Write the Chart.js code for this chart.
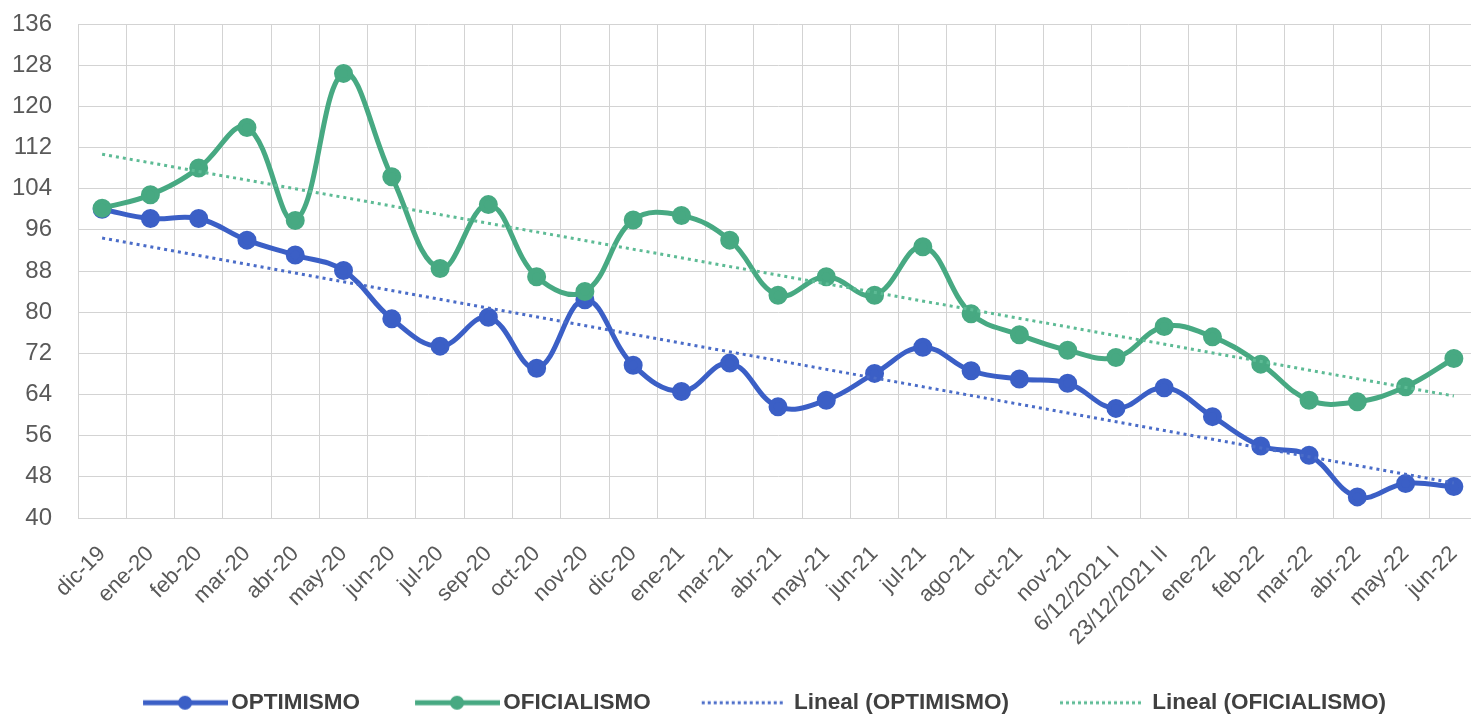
<!DOCTYPE html>
<html>
<head>
<meta charset="utf-8">
<script src="https://cdn.jsdelivr.net/npm/chart.js@4.4.1/dist/chart.umd.min.js"></script>
<style>
  html, body { margin: 0; padding: 0; background: #fff; overflow: hidden; }
  #wrap { width: 1490px; height: 721px; }
</style>
</head>
<body>
<div id="wrap"><canvas id="chart" width="1490" height="721"></canvas></div>
<script>
/* datos */
const labels = ['dic-19', 'ene-20', 'feb-20', 'mar-20', 'abr-20', 'may-20', 'jun-20', 'jul-20', 'sep-20', 'oct-20',
    'nov-20', 'dic-20', 'ene-21', 'mar-21', 'abr-21', 'may-21', 'jun-21', 'jul-21', 'ago-21', 'oct-21',
    'nov-21', '6/12/2021 I', '23/12/2021 II', 'ene-22', 'feb-22', 'mar-22', 'abr-22', 'may-22', 'jun-22'];

const optimismo = [100, 98.2, 98.2, 94, 91.1, 88.1, 78.7, 73.4, 79, 69.1,
    82.4, 69.7, 64.6, 70.1, 61.6, 62.9, 68.1, 73.2, 68.6, 67,
    66.2, 61.3, 65.3, 59.7, 54, 52.2, 44.1, 46.7, 46.1];

const oficialismo = [100.2, 102.8, 108, 115.9, 97.8, 126.4, 106.3, 88.5, 100.9, 86.9,
    84, 97.9, 98.8, 94, 83.3, 86.9, 83.3, 92.7, 79.7, 75.6,
    72.6, 71.2, 77.2, 75.2, 69.9, 62.9, 62.6, 65.5, 71];

// extremos de las líneas de tendencia (lineal), inicio y fin
const trendOptimismo = [94.4, 46.8];
const trendOficialismo = [110.7, 63.7];

const yTicks = [40, 48, 56, 64, 72, 80, 88, 96, 104, 112, 120, 128, 136];

const BLUE = '#3b5fc6';
const GREEN = '#47a982';
const BLUE_TREND = '#4a6cc8';
const GREEN_TREND = '#5dbb95';
const TEXT = '#595959';
const GRID = '#d3d3d3';

function endpoints(pair) {
    return labels.map((_, i) => i === 0 ? pair[0] : (i === labels.length - 1 ? pair[1] : null));
}

/* iconos de leyenda: la imagen se centra en la caja; la línea va pegada al texto */
const BOX_W = 104;
function legendIcon(color, dotted) {
    const w = 2 * (BOX_W / 2 + 8);
    const c = document.createElement('canvas');
    c.width = w; c.height = 16;
    const g = c.getContext('2d');
    g.strokeStyle = color;
    if (dotted) {
        g.lineWidth = 3;
        g.setLineDash([3, 3]);
        g.beginPath(); g.moveTo(w - 89, 8); g.lineTo(w - 6, 8); g.stroke();
    } else {
        g.lineWidth = 5;
        g.beginPath(); g.moveTo(w - 85, 8); g.lineTo(w, 8); g.stroke();
        g.fillStyle = color;
        g.beginPath(); g.arc(w - 43, 8, 7, 0, Math.PI * 2); g.fill();
    }
    return c;
}

const font = "'Liberation Sans', Arial, sans-serif";

new Chart(document.getElementById('chart'), {
    type: 'line',
    data: {
        labels: labels,
        datasets: [
            {
                label: 'OPTIMISMO', data: optimismo, borderColor: BLUE, backgroundColor: BLUE,
                borderWidth: 5, pointRadius: 7, pointHoverRadius: 7, tension: 0.4, order: 2,
                icon: legendIcon(BLUE, false),
            },
            {
                label: 'OFICIALISMO', data: oficialismo, borderColor: GREEN, backgroundColor: GREEN,
                borderWidth: 5, pointRadius: 7, pointHoverRadius: 7, tension: 0.4, order: 1,
                icon: legendIcon(GREEN, false),
            },
            {
                label: 'Lineal (OPTIMISMO)', data: endpoints(trendOptimismo), borderColor: BLUE_TREND,
                borderWidth: 3, borderDash: [3, 4], pointRadius: 0, spanGaps: true, tension: 0, order: 0,
                icon: legendIcon(BLUE_TREND, true),
            },
            {
                label: 'Lineal (OFICIALISMO)', data: endpoints(trendOficialismo), borderColor: GREEN_TREND,
                borderWidth: 3, borderDash: [3, 4], pointRadius: 0, spanGaps: true, tension: 0, order: 0,
                icon: legendIcon(GREEN_TREND, true),
            },
        ],
    },
    options: {
        responsive: false,
        animation: false,
        layout: { padding: { top: 24, left: 12, right: 0, bottom: -3 } },
        plugins: {
            tooltip: { enabled: false },
            legend: {
                position: 'bottom',
                labels: {
                    usePointStyle: true,
                    pointStyleWidth: BOX_W,
                    padding: 28,
                    color: '#404040',
                    font: { family: font, size: 22.5, weight: 'bold' },
                    // orden de la leyenda fijo, independiente del orden de dibujo
                    generateLabels(chart) {
                        return chart.data.datasets.map((ds, i) => ({
                            text: ds.label,
                            pointStyle: ds.icon,
                            fontColor: '#404040',
                            strokeStyle: 'transparent',
                            fillStyle: 'transparent',
                            lineWidth: 0,
                            hidden: false,
                            datasetIndex: i,
                        }));
                    },
                    sort: (a, b) => a.datasetIndex - b.datasetIndex,
                },
            },
        },
        scales: {
            x: {
                offset: true,
                grid: { color: GRID, lineWidth: 1, offset: true, drawTicks: false },
                border: { color: GRID },
                ticks: {
                    color: TEXT, minRotation: 45, maxRotation: 45, autoSkip: false,
                    padding: 23,
                    font: { family: font, size: 22 },
                },
                afterFit(axis) { axis.paddingLeft = 0; axis.paddingRight = 0; axis.height = 145.5; },
            },
            y: {
                min: 40, max: 136,
                afterBuildTicks(axis) { axis.ticks = yTicks.map(v => ({ value: v })); },
                grid: { color: GRID, lineWidth: 1, drawTicks: false },
                border: { color: GRID },
                ticks: {
                    color: TEXT, padding: 26,
                    font: { family: font, size: 24 },
                },
                afterFit(axis) { axis.paddingTop = 0; axis.paddingBottom = 0; axis.width = 66; },
            },
        },
    },
});
</script>
</body>
</html>
